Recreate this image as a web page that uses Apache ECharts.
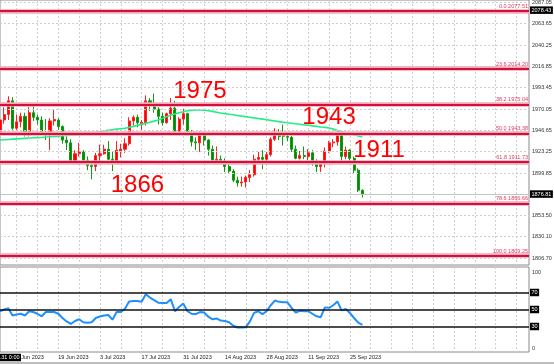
<!DOCTYPE html>
<html>
<head>
<meta charset="utf-8">
<script src="https://cdn.jsdelivr.net/npm/echarts@6/dist/echarts.min.js"></script>
<style>
html,body{margin:0;padding:0;background:#fff;}
#c{width:554px;height:364px;}
</style>
</head>
<body>
<div id="c"></div>
<script>
// ---------------- data ----------------
const dates = [
 '30 May 2023','31 May 2023','1 Jun 2023','2 Jun 2023',
 '5 Jun 2023','6 Jun 2023','7 Jun 2023','8 Jun 2023','9 Jun 2023',
 '12 Jun 2023','13 Jun 2023','14 Jun 2023','15 Jun 2023','16 Jun 2023',
 '19 Jun 2023','20 Jun 2023','21 Jun 2023','22 Jun 2023','23 Jun 2023',
 '26 Jun 2023','27 Jun 2023','28 Jun 2023','29 Jun 2023','30 Jun 2023',
 '3 Jul 2023','4 Jul 2023','5 Jul 2023','6 Jul 2023','7 Jul 2023',
 '10 Jul 2023','11 Jul 2023','12 Jul 2023','13 Jul 2023','14 Jul 2023',
 '17 Jul 2023','18 Jul 2023','19 Jul 2023','20 Jul 2023','21 Jul 2023',
 '24 Jul 2023','25 Jul 2023','26 Jul 2023','27 Jul 2023','28 Jul 2023',
 '31 Jul 2023','1 Aug 2023','2 Aug 2023','3 Aug 2023','4 Aug 2023',
 '7 Aug 2023','8 Aug 2023','9 Aug 2023','10 Aug 2023','11 Aug 2023',
 '14 Aug 2023','15 Aug 2023','16 Aug 2023','17 Aug 2023','18 Aug 2023',
 '21 Aug 2023','22 Aug 2023','23 Aug 2023','24 Aug 2023','25 Aug 2023',
 '28 Aug 2023','29 Aug 2023','30 Aug 2023','31 Aug 2023','1 Sep 2023',
 '4 Sep 2023','5 Sep 2023','6 Sep 2023','7 Sep 2023','8 Sep 2023',
 '11 Sep 2023','12 Sep 2023','13 Sep 2023','14 Sep 2023','15 Sep 2023',
 '18 Sep 2023','19 Sep 2023','20 Sep 2023','21 Sep 2023','22 Sep 2023',
 '25 Sep 2023','26 Sep 2023','27 Sep 2023','28 Sep 2023'
];
const opens = [
 1943,1958,1964,1979, 1949,1956,1962,1942,1966, 1961,1958,1944,1943,1957,
 1958,1951,1936,1933,1913, 1921,1923,1914,1908,1907, 1919,1921,1926,1915,1911,
 1924,1926,1932,1957,1961, 1954,1955,1979,1976,1970, 1962,1955,1965,1971,1945,
 1959,1965,1944,1934,1933, 1942,1936,1926,1913,1915, 1913,1907,1902,1892,1889,
 1890,1895,1898,1915,1917, 1915,1920,1937,1942,1941, 1940,1939,1926,1916,1919,
 1918,1922,1913,1907,1910, 1924,1933,1934,1942,1918, 1925,1916,1903,1881
];
const closes = [
 1958,1964,1979,1949, 1956,1962,1942,1966,1961, 1958,1944,1943,1957,1958.5,
 1951,1936,1933,1913,1921, 1923,1914,1908,1907,1919, 1921,1926,1915,1911,1925,
 1926,1932,1957,1961,1955, 1955.5,1979,1976,1970,1962, 1955,1965,1971,1945,1959,
 1965,1944,1934,1933,1942, 1936,1926,1914,1915,1913, 1907,1902,1892,1889,1890,
 1895,1898,1915,1917,1915, 1920,1937,1942,1940,1940.2, 1939,1926,1916,1919,1918,
 1922,1913,1907,1910,1924, 1933,1934,1942,1918,1925, 1916,1903,1881,1876.81
];
const highs = [
 1962,1972,1984,1983, 1964,1966,1966,1972,1976, 1964,1962,1959,1960,1969,
 1960,1952,1940,1937,1925, 1933,1925,1918,1912,1922, 1931,1931,1935,1923,1935,
 1932,1938,1961,1963,1964, 1958,1985,1982,1987,1972, 1966,1966,1982,1979,1961,
 1970,1966,1947,1939,1946, 1943,1937,1930,1929,1919, 1916,1913,1904,1896,1896,
 1897,1903,1920,1923,1925, 1923,1939,1949,1948,1953, 1944,1941,1930,1924,1929,
 1926,1925,1915,1913,1928, 1935,1937,1947,1947,1929, 1926,1918,1905,1882
];
const lows = [
 1937,1954,1958,1947, 1947,1950,1940,1940,1957, 1953,1942,1936,1925,1952,
 1947,1932,1925,1910,1910, 1918,1910,1903,1893,1902, 1912,1920,1914,1902,1910,
 1917,1922,1930,1952,1950, 1946,1952,1968,1966,1953, 1952,1954,1958,1943,1942,
 1953,1942,1929,1925,1923, 1930,1919,1912,1910,1910, 1901,1900,1890,1885,1885,
 1884,1890,1896,1910,1904, 1913,1918,1935,1936,1930, 1935,1923,1915,1915,1915,
 1914,1908,1901,1901,1906, 1922,1928,1930,1913,1915, 1911,1900,1879,1873
];
const maValues = [
 1936.1,1936.4,1936.7,1937.0, 1937.3,1937.6,1937.9,1938.2,1938.5, 1938.7,1938.9,1939.3,1939.6,1940.0,
 1940.3,1940.7,1941.0,1941.4,1941.7, 1942.0,1942.4,1943.0,1943.7,1944.4, 1945.2,1945.9,1946.6,1947.3,1948.0,
 1948.5,1948.9,1949.9,1951.0,1952.1, 1953.2,1954.4,1955.6,1956.8,1958.0, 1959.8,1961.7,1963.5,1964.7,1965.9,
 1967.1,1968.2,1968.7,1969.0,1969.0, 1968.7,1968.2,1967.5,1966.6,1965.7, 1965.0,1964.3,1963.7,1963.0,1962.3,
 1961.7,1961.0,1960.3,1959.7,1959.0, 1958.3,1957.6,1956.9,1956.2,1955.6, 1955.0,1954.5,1953.9,1953.3,1952.7,
 1952.2,1951.6,1951.0,1950.4,1949.9, 1949.3,1948.0,1946.6,1945.2,1944.1, 1943.0,1941.8,1940.6,1939.4
];
const rsiValues = [
 47.7,50,51.5,43, 44,45,43,48,47, 45,42,47,47,47,
 45,40,36,33,36.5, 38.5,35,34.5,35,40, 41.8,43,43.5,38,47,
 47,51,59.5,60,60, 59,68,64,61,58, 57.6,57.6,62,48,53,
 57,48,45,44.5,47, 46.5,41.5,38.5,39.5,37, 36.5,35,31,28.8,28.8,
 29,36,46,48,44.5, 48,55,60.5,59,58.5, 58.5,52,46.5,48.5,48,
 48,45,42,41,52.5, 52,55,59.5,49,50.5, 46,40,34.5,32
];
const fibLevels = [2077.51, 2014.20, 1975.04, 1943.38, 1911.73, 1866.66, 1809.25];
const fibLabels = ['0.0 2077.51','23.6 2014.20','38.2 1975.04','50.0 1943.38','61.8 1911.73','78.6 1866.66','100.0 1809.25'];
const priceTicks = [2087.05, 2063.65, 2040.25, 2016.85, 1993.45, 1970.05, 1946.65, 1923.25, 1899.85, 1853.50, 1830.10, 1806.70];
const priceTickLabels = ['2087.05','2063.65','2040.25','2016.85','1993.45','1970.05','1946.65','1923.25','1899.85','1853.50','1830.10','1806.70'];
const dateTickLabels = ['5 Jun 2023','19 Jun 2023','3 Jul 2023','17 Jul 2023','31 Jul 2023','14 Aug 2023','28 Aug 2023','11 Sep 2023','25 Sep 2023'];
const annTexts = ['1975','1943','1866','1911'];
const annBars = [48, 79, 33, 91];
const annPrices = [1989.8, 1960.8, 1886.2, 1924.6];
const lastPrice = 1876.81;
const tagPrice = 2078.43;
const rsiLevels = [70, 50, 30];
const rsiScale = [100, 0];

// ---------------- build ----------------
const FONT = '"Liberation Sans", Arial, sans-serif';
const MON = ['Jan','Feb','Mar','Apr','May','Jun','Jul','Aug','Sep','Oct','Nov','Dec'];
const TOTAL = 128;
const future = [];
(function(){
  const d = new Date(2023, 8, 29);
  while (dates.length + future.length < TOTAL) {
    const wd = d.getDay();
    if (wd !== 0 && wd !== 6) future.push(d.getDate() + ' ' + MON[d.getMonth()] + ' ' + d.getFullYear());
    d.setDate(d.getDate() + 1);
  }
})();
const cats = dates.concat(future);
const candle = dates.map((_, i) => [opens[i], closes[i], lows[i], highs[i]]);
const dotted = {color:'#cfcfcf', width:1, type:[2,2]};
const hidden = {color:'rgba(255,255,255,0)', width:0.01, type:'solid'};
const weekSplit = (i) => i % 5 === 4;

function holder(xi, yi, z, extra) {
  return Object.assign({
    type:'line', xAxisIndex:xi, yAxisIndex:yi, data: xi === 0 ? closes : rsiValues,
    symbol:'none', silent:true, z:z, lineStyle:{color:'rgba(255,255,255,0)', width:0}
  }, extra);
}
const tagLabel = (txt) => ({show:true, position:'end', distance:1, formatter:txt, color:'#fff',
  backgroundColor:'#000', padding:[1,1.5,0.5,1.5], fontSize:5.5, fontFamily:FONT});

const chart = echarts.init(document.getElementById('c'), null, {renderer:'canvas'});
const option = {
  animation:false,
  backgroundColor:'#ffffff',
  textStyle:{fontFamily:FONT},
  grid:[
    {left:0, top:0, width:529, height:265, show:true, borderColor:'#8a8a8a', borderWidth:1, backgroundColor:'transparent'},
    {left:0, top:267, width:529, height:85, show:true, borderColor:'#8a8a8a', borderWidth:1, backgroundColor:'transparent'}
  ],
  xAxis:[
    {type:'category', gridIndex:0, data:cats, boundaryGap:false,
     axisLine:{show:false}, axisTick:{show:false}, axisLabel:{show:false},
     splitLine:{show:true, interval:weekSplit, lineStyle:dotted}},
    {type:'category', gridIndex:1, data:cats, boundaryGap:false,
     axisLine:{show:false}, axisTick:{show:false},
     axisLabel:{show:true, interval:(i, v) => dateTickLabels.indexOf(v) >= 0, align:'left',
       fontSize:5.5, color:'#222', margin:2, fontFamily:FONT},
     splitLine:{show:true, interval:weekSplit, lineStyle:dotted}}
  ],
  yAxis:[
    {type:'value', gridIndex:0, position:'right', min:1799.05, max:2089.57,
     axisLine:{show:false}, axisTick:{show:false}, axisLabel:{show:false}, splitLine:{show:false}},
    {type:'value', gridIndex:1, position:'right', min:0, max:100,
     axisLine:{show:false}, axisTick:{show:false}, axisLabel:{show:false}, splitLine:{show:false}}
  ],
  series:[
    holder(0, 0, 1, {markLine:{silent:true, symbol:'none', animation:false, lineStyle:dotted,
      label:{show:true, position:'end', distance:3, fontSize:5.5, color:'#333', fontFamily:FONT},
      data: priceTicks.map((v, k) => ({yAxis:v, label:{formatter:priceTickLabels[k]}}))}}),
    holder(0, 0, 7, {markLine:{silent:true, symbol:'none', animation:false,
      data:[
        {yAxis:lastPrice, lineStyle:{color:'#c4c4c4', width:1, type:'solid'}, label:tagLabel(String(lastPrice))},
        {yAxis:tagPrice, lineStyle:hidden, label:tagLabel(String(tagPrice))}
      ]}}),
    {type:'candlestick', xAxisIndex:0, yAxisIndex:0, data:candle, barWidth:2.6, z:3, silent:true,
     itemStyle:{color:'#ff0000', color0:'#008a00', borderColor:'#ff2020', borderColor0:'#109a10', borderWidth:1}},
    {type:'line', xAxisIndex:0, yAxisIndex:0, data:maValues, symbol:'none', z:4, silent:true,
     lineStyle:{color:'#22ee88', width:1.6}},
    holder(0, 0, 5, {markLine:{silent:true, symbol:'none', animation:false,
      lineStyle:{color:'#f3a9b8', width:4.5, type:'solid'}, label:{show:false},
      data: fibLevels.map(v => ({yAxis:v}))}}),
    holder(0, 0, 6, {markLine:{silent:true, symbol:'none', animation:false,
      lineStyle:{color:'#d3103c', width:2, type:'solid'},
      label:{show:true, position:'insideEndTop', distance:[1,1.5], fontSize:5.5, color:'#e23a5c', fontFamily:FONT},
      data: fibLevels.map((v, k) => ({yAxis:v, label:{formatter:fibLabels[k]}}))}}),
    holder(0, 0, 8, {markPoint:{silent:true, animation:false, symbol:'circle', symbolSize:1,
      itemStyle:{color:'rgba(0,0,0,0)'},
      label:{show:true, position:'inside', fontSize:24, color:'#ff0000', fontFamily:FONT},
      data: annTexts.map((t, k) => ({coord:[annBars[k], annPrices[k]], value:t, label:{formatter:t}}))}}),
    {type:'line', xAxisIndex:1, yAxisIndex:1, data:rsiValues, symbol:'none', z:4, silent:true,
     lineStyle:{color:'#1e8fff', width:2},
     markLine:{silent:true, symbol:'none', animation:false,
       lineStyle:{color:'#111', width:1.5, type:'solid'},
       data: rsiLevels.map(v => ({yAxis:v, label:tagLabel(String(v))}))}},
    holder(1, 1, 2, {markLine:{silent:true, symbol:'none', animation:false, lineStyle:hidden,
      data:[
        {yAxis:rsiScale[0], label:{show:true, position:'end', distance:3, formatter:String(rsiScale[0]), fontSize:5.5, color:'#333', verticalAlign:'top', padding:[2,0,0,0]}},
        {yAxis:rsiScale[1], label:{show:true, position:'end', distance:3, formatter:String(rsiScale[1]), fontSize:5.5, color:'#333', verticalAlign:'bottom', padding:[0,0,1,0]}}
      ]}})
  ],
  graphic:[
    {type:'rect', silent:true, z:100, shape:{x:0, y:362, width:554, height:2}, style:{fill:'#bdbdbd'}},
    {type:'text', silent:true, z:100, style:{text:'2023.05.31 0:00', x:21, y:357.5, align:'right', verticalAlign:'middle',
      fill:'#fff', backgroundColor:'#000', padding:[1,1.5,0.5,1.5], font:'5.5px "Liberation Sans", Arial, sans-serif'}}
  ]
};
chart.setOption(option);
</script>
</body>
</html>
